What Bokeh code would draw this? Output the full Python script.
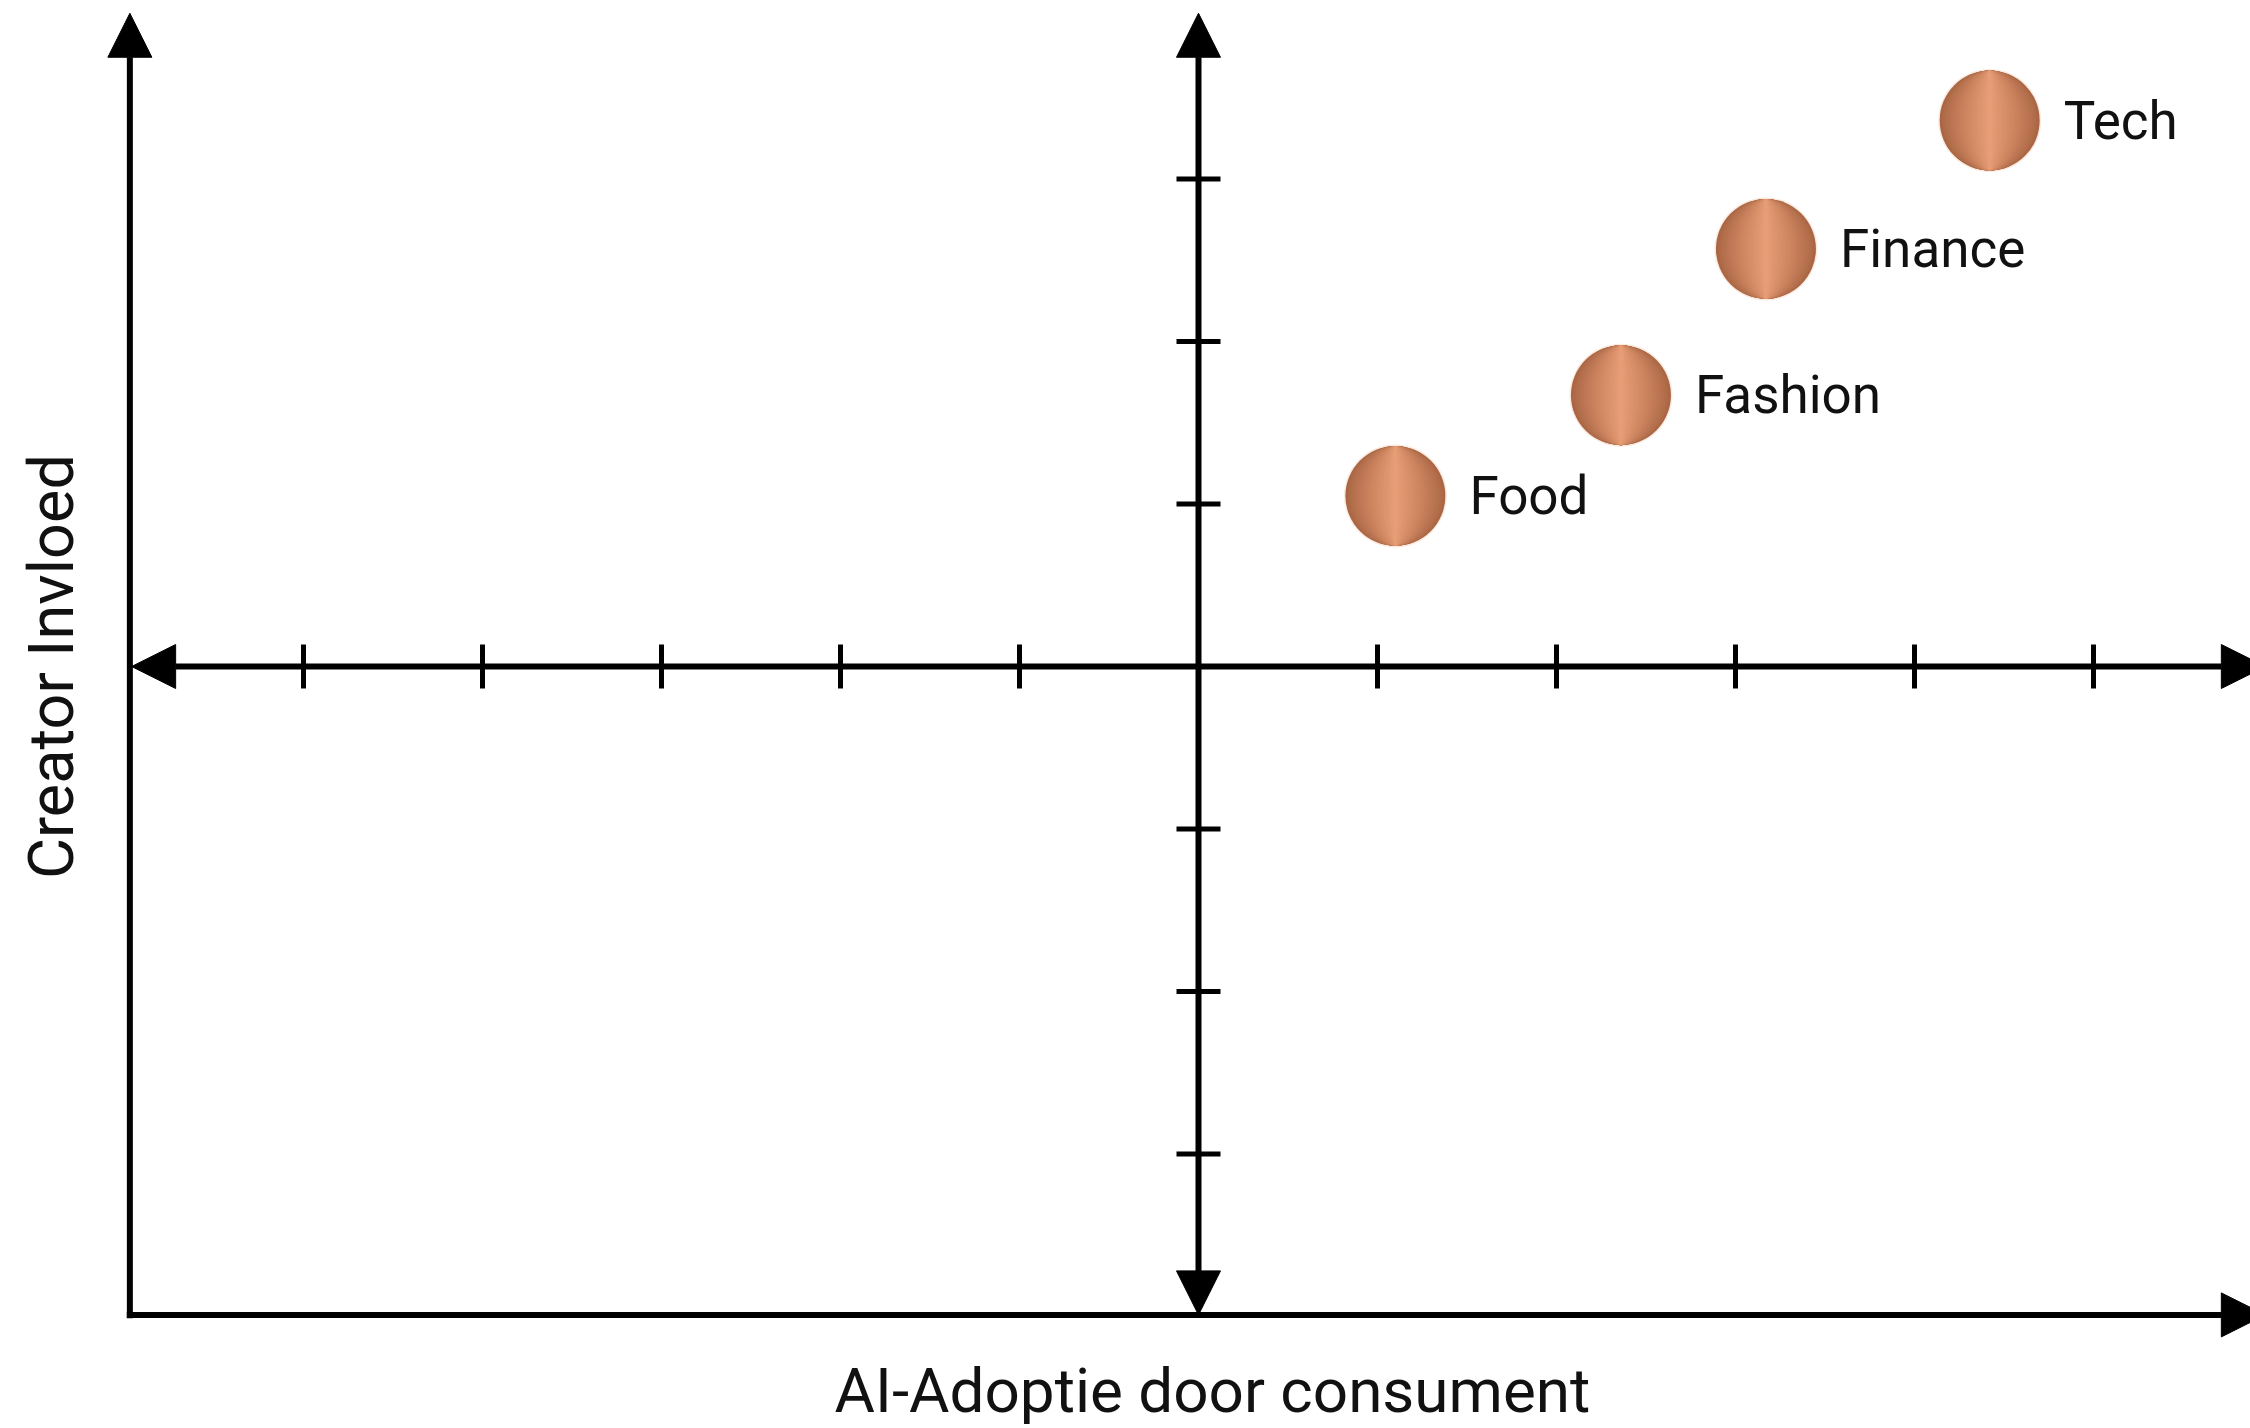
import numpy as np
from bokeh.plotting import figure
from bokeh.models import Arrow, NormalHead, Label, ColumnDataSource, Range1d
from bokeh.core.properties import value
from bokeh.embed import file_html
from bokeh.resources import INLINE

# ---- data ----
sectors = ["Food", "Fashion", "Finance", "Tech"]
ai_adoption = [1.10, 2.36, 3.17, 4.42]          # x values
creator_influence = [1.05, 1.67, 2.57, 3.36]    # y values

x_ticks = [-5, -4, -3, -2, -1, 1, 2, 3, 4, 5]
y_ticks = [-3, -2, -1, 1, 2, 3]

x_title = "AI-Adoptie door consument"
y_title = "Creator Invloed"

# axis extents (data units)
AX_LEFT = -5.97
AX_RIGHT = 5.96
AX_BOTTOM = -3.99
AX_TOP = 4.02

W, H = 2250, 1428
p = figure(width=W, height=H,
           x_range=Range1d(-6.6927, 5.8771), y_range=Range1d(-4.6892, 4.0985),
           output_backend="svg", toolbar_location=None, min_border=0,
           x_axis_location=None, y_axis_location=None)
p.grid.visible = False
p.outline_line_color = None
p.background_fill_color = "white"
p.border_fill_color = "white"

# ---- ticks on the central axes ----
p.scatter(x=x_ticks, y=[0] * len(x_ticks), marker="dash", angle=np.pi / 2,
          size=44, line_width=5, line_color="black")
p.scatter(x=[0] * len(y_ticks), y=y_ticks, marker="dash",
          size=44, line_width=5, line_color="black")


def head():
    return NormalHead(size=44, fill_color="black", line_color="black", line_width=1)


LW = 6
# left vertical axis (arrow up)
p.add_layout(Arrow(start=None, end=head(), x_start=AX_LEFT, y_start=AX_BOTTOM - 0.02,
                   x_end=AX_LEFT, y_end=AX_TOP, line_width=LW, line_color="black"))
# bottom horizontal axis (arrow right)
p.add_layout(Arrow(start=None, end=head(), x_start=AX_LEFT - 0.017, y_start=AX_BOTTOM,
                   x_end=AX_RIGHT, y_end=AX_BOTTOM, line_width=LW, line_color="black"))
# central horizontal axis (double arrow)
p.add_layout(Arrow(start=head(), end=head(), x_start=AX_LEFT + 0.01, y_start=0,
                   x_end=AX_RIGHT, y_end=0, line_width=LW, line_color="black"))
# central vertical axis (double arrow)
p.add_layout(Arrow(start=head(), end=head(), x_start=0, y_start=AX_BOTTOM,
                   x_end=0, y_end=AX_TOP, line_width=LW, line_color="black"))

# ---- bubbles with copper (cylindrical) gradient ----
src = ColumnDataSource(dict(x=ai_adoption, y=creator_influence, label=sectors))
p.ellipse(x="x", y="y", width=103, height=103, width_units="screen", height_units="screen",
          fill_color="#F3D2BC", fill_alpha=0.45, line_color=None, source=src)

edge = np.array([170, 102, 68])
center = np.array([234, 160, 120])
n_layers = 20
for k in range(n_layers):
    half = 50.0 * (1 - k / n_layers)
    t = (1 - half / 50.0) ** 0.85
    rgb = (edge + (center - edge) * t).astype(int)
    col = "#%02x%02x%02x" % tuple(rgb)
    p.ellipse(x="x", y="y", width=2 * half, height=100, width_units="screen",
              height_units="screen", fill_color=col, line_color=None, source=src)

p.text(x="x", y="y", text="label", source=src, x_offset=74, y_offset=0,
       text_font=value("Roboto"), text_font_size="53px", text_baseline="alphabetic",
       text_align="left", text_color="#111111")

# ---- axis titles ----
p.add_layout(Label(x=0.078, y=-4.458, text=x_title, text_align="center",
                   text_baseline="alphabetic", text_font="Roboto", text_font_size="62px",
                   text_color="#111111"))
p.add_layout(Label(x=-6.408, y=0, angle=np.pi / 2, text=y_title, text_align="center",
                   text_baseline="alphabetic", text_font="Roboto", text_font_size="63px",
                   text_color="#111111"))

open("out.html", "w").write(file_html(p, INLINE))
